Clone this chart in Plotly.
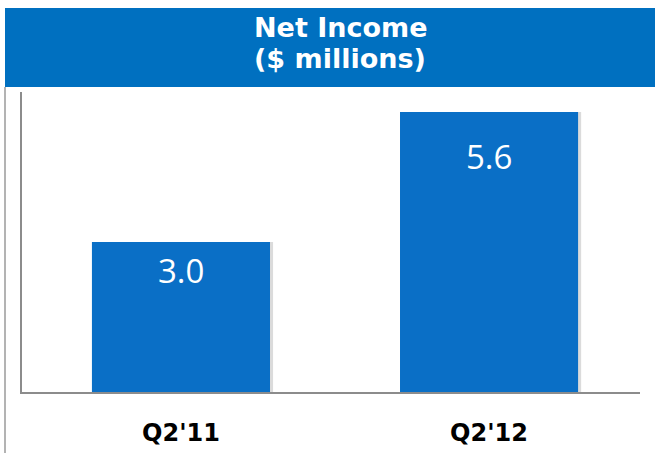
import plotly.graph_objects as go

categories = ["Q2'11", "Q2'12"]
values = [3.0, 5.6]
value_labels = ["3.0", "5.6"]
title_lines = ["Net Income", "($ millions)"]

BLUE = "#0A6FC6"
W, H = 655, 453
L, R, T, B = 22, 15, 92, 61
pw, ph = W - L - R, H - T - B

def px_x(x):
    return (x - L) / pw

def px_y(y):
    return (H - B - y) / ph

xs = list(range(len(categories)))
fig = go.Figure()
# subtle shadow
fig.add_trace(go.Bar(x=xs, y=values, width=0.578, offset=-0.289 + 0.010,
                     marker=dict(color="rgba(0,0,0,0.14)", line=dict(width=0)),
                     hoverinfo="skip", showlegend=False))
fig.add_trace(go.Bar(x=xs, y=values, width=0.578, offset=-0.289,
                     marker=dict(color=BLUE, line=dict(width=0)),
                     showlegend=False))

shifts = [-28, -44]
for x, v, t, s in zip(xs, values, value_labels, shifts):
    fig.add_annotation(x=x, y=v, text=t, showarrow=False, yshift=s,
                       yanchor="middle",
                       font=dict(family="Open Sans", size=33, color="white"))

fig.add_shape(type="rect", xref="paper", yref="paper",
              x0=px_x(5), x1=px_x(660), y0=px_y(87), y1=px_y(8),
              fillcolor="#0070C0", line=dict(width=0), layer="below")
fig.add_shape(type="line", xref="paper", yref="paper",
              x0=px_x(5), x1=px_x(5), y0=px_y(87), y1=px_y(460),
              line=dict(color="#9a9a9a", width=1.5))
fig.add_annotation(xref="paper", yref="paper", x=px_x(340), y=px_y(27),
                   text="<b>" + title_lines[0] + "</b>", showarrow=False,
                   xanchor="center", yanchor="middle",
                   font=dict(family="DejaVu Sans", size=27, color="white"))
fig.add_annotation(xref="paper", yref="paper", x=px_x(340), y=px_y(59),
                   text="<b>" + title_lines[1] + "</b>", showarrow=False,
                   xanchor="center", yanchor="middle",
                   font=dict(family="DejaVu Sans", size=27, color="white"))

fig.update_layout(
    width=W, height=H, margin=dict(l=L, r=R, t=T, b=B),
    paper_bgcolor="white", plot_bgcolor="white", barmode="overlay",
    xaxis=dict(range=[-0.516, 1.49], tickvals=xs,
               ticktext=["<b>" + c + "</b>" for c in categories],
               tickfont=dict(family="DejaVu Sans", size=24, color="black"),
               showline=True, linecolor="#8c8c8c", linewidth=1.5,
               showgrid=False, zeroline=False, ticks="", ticklabelstandoff=18,
               automargin=False),
    yaxis=dict(range=[0, 6], showticklabels=False, showgrid=False,
               zeroline=False, showline=True, linecolor="#8c8c8c",
               linewidth=1.5, ticks="", automargin=False),
)
fig.write_html("out.html", config={"displayModeBar": False},
               post_script="document.body.style.margin='0';")
